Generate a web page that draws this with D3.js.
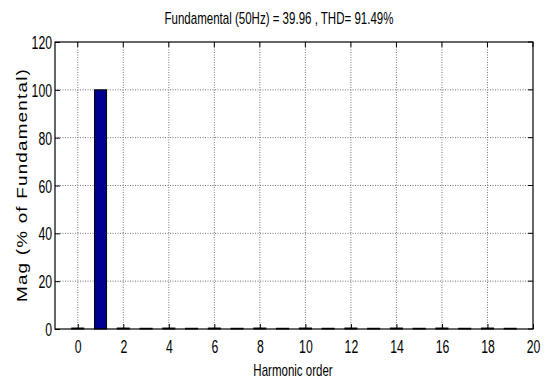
<!DOCTYPE html>
<html><head><meta charset="utf-8">
<script src="https://cdn.jsdelivr.net/npm/d3@7"></script>
<style>body{margin:0;background:#fff}</style>
</head><body>
<svg id="c" width="548" height="383"></svg>
<script>
const harmonics = [0,1,2,3,4,5,6,7,8,9,10,11,12,13,14,15,16,17,18,19];
const magnitudes = [0.4,100,0.4,0.3,0.4,0.3,0.4,0.3,0.4,0.3,0.4,0.3,0.4,0.3,0.4,0.3,0.4,0.3,0.4,0.3];
const xTicks = [0,2,4,6,8,10,12,14,16,18,20];
const yTicks = [0,20,40,60,80,100,120];
const title = "Fundamental (50Hz) = 39.96 , THD= 91.49%";
const xLabel = "Harmonic order";
const yLabel = "Mag (% of Fundamental)";

const svg = d3.select("#c");
const L=55, R=533, T=42, B=329;
const x = d3.scaleLinear().domain([-1,20]).range([L,R]);
const y = d3.scaleLinear().domain([0,120]).range([B,T]);
const font = "'Liberation Sans',Arial,sans-serif";

// grid
svg.append("g").selectAll("line").data(xTicks.filter(d=>d<20)).join("line")
  .attr("x1",d=>x(d)).attr("x2",d=>x(d)).attr("y1",T).attr("y2",B)
  .attr("stroke","#777").attr("stroke-width",1).attr("stroke-dasharray","1,1.5");
svg.append("g").selectAll("line").data(yTicks.filter(d=>d>0&&d<120)).join("line")
  .attr("x1",L).attr("x2",R).attr("y1",d=>y(d)).attr("y2",d=>y(d))
  .attr("stroke","#777").attr("stroke-width",1).attr("stroke-dasharray","1,1.5");

// bars
const bw = 0.53;
svg.append("g").selectAll("rect").data(harmonics).join("rect")
  .attr("x",(d)=>x(d-bw/2)).attr("width",x(bw)-x(0))
  .attr("y",(d,i)=>y(magnitudes[i])).attr("height",(d,i)=>B-y(magnitudes[i]))
  .attr("fill","#00008f").attr("stroke","#000").attr("stroke-width",1);

// box
svg.append("rect").attr("x",L).attr("y",T).attr("width",R-L).attr("height",B-T)
  .attr("fill","none").attr("stroke","#000").attr("stroke-width",1.2);

// axes
const xa = svg.append("g").attr("transform",`translate(0,${B})`)
  .call(d3.axisBottom(x).tickValues(xTicks).tickSize(-5).tickPadding(0));
const ya = svg.append("g").attr("transform",`translate(${L},0)`)
  .call(d3.axisLeft(y).tickValues(yTicks).tickSize(-5).tickPadding(0));
[xa,ya].forEach(a=>{
  a.select(".domain").remove();
  a.selectAll("line").attr("stroke","#000");
  a.selectAll("text").attr("font-family",font).attr("font-size",18).attr("fill","#000")
   .attr("dy",null).attr("y",0).attr("x",0);
});
xa.selectAll("text").attr("transform","translate(0,24) scale(0.68,1)");
ya.selectAll("text").attr("transform","translate(-3,6.5) scale(0.68,1)");
// top/right ticks
svg.append("g").selectAll("line").data(xTicks).join("line")
  .attr("x1",d=>x(d)).attr("x2",d=>x(d)).attr("y1",T).attr("y2",T+5).attr("stroke","#000");
svg.append("g").selectAll("line").data(yTicks).join("line")
  .attr("x1",R).attr("x2",R-5).attr("y1",d=>y(d)).attr("y2",d=>y(d)).attr("stroke","#000");

svg.append("text").attr("transform",`translate(${279},24) scale(0.72,1)`).attr("text-anchor","middle")
  .attr("font-family",font).attr("font-size",16).text(title);
svg.append("text").attr("transform",`translate(${293},376) scale(0.72,1)`).attr("text-anchor","middle")
  .attr("font-family",font).attr("font-size",16).text(xLabel);
svg.append("text").attr("transform",`translate(27,${185}) rotate(-90)`).attr("text-anchor","middle")
  .attr("font-family",font).attr("font-size",15.5).attr("letter-spacing",1)
  .attr("textLength",234).attr("lengthAdjust","spacingAndGlyphs").text(yLabel);
</script>
</body></html>
